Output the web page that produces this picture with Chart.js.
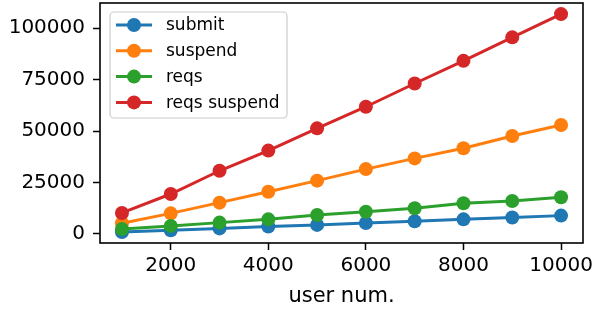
<!DOCTYPE html>
<html>
<head>
<meta charset="utf-8">
<script src="https://cdn.jsdelivr.net/npm/chart.js@4/dist/chart.umd.min.js"></script>
<style>
  html, body { margin: 0; padding: 0; background: #fff; }
  #chart { display: block; }
</style>
</head>
<body>
<canvas id="chart" width="598" height="312"></canvas>
<script>
// data
var userNum = [1000, 2000, 3000, 4000, 5000, 6000, 7000, 8000, 9000, 10000];
var submit = [900, 1800, 2700, 3600, 4400, 5300, 6200, 7100, 8000, 8900];
var suspend = [5200, 10000, 15200, 20500, 25900, 31500, 36700, 41600, 47600, 52900];
var reqs = [2400, 3900, 5500, 7100, 9200, 10800, 12500, 14900, 16000, 17800];
var reqsSuspend = [10200, 19400, 30700, 40500, 51300, 61800, 73100, 84100, 95500, 106800];

var seriesNames = ['submit', 'suspend', 'reqs', 'reqs suspend'];
var seriesColors = ['#1f77b4', '#ff7f0e', '#2ca02c', '#d62728'];
var xTicks = [2000, 4000, 6000, 8000, 10000];
var yTicks = [0, 25000, 50000, 75000, 100000];

var FONT = 'DejaVu Sans';

function points(ys) {
    return userNum.map(function (x, i) { return {x: x, y: ys[i]}; });
}

var allSeries = [submit, suspend, reqs, reqsSuspend];
var datasets = allSeries.map(function (ys, i) {
    return {
        label: seriesNames[i],
        data: points(ys),
        borderColor: seriesColors[i],
        backgroundColor: seriesColors[i],
        borderWidth: 3,
        pointRadius: 7,
        pointHoverRadius: 7,
        pointBorderWidth: 0,
        order: allSeries.length - i // later series on top, like matplotlib
    };
});

// box around the plot, like matplotlib spines
var frame = {
    id: 'frame',
    afterDraw: function (chart) {
        var a = chart.chartArea, ctx = chart.ctx;
        ctx.save();
        ctx.strokeStyle = '#000';
        ctx.lineWidth = 1.6;
        ctx.strokeRect(a.left, a.top, a.right - a.left, a.bottom - a.top);
        ctx.restore();
    }
};

// legend inside the upper left corner, line + marker handles
var insideLegend = {
    id: 'insideLegend',
    afterDraw: function (chart) {
        var a = chart.chartArea, ctx = chart.ctx;
        var x0 = a.left + 10, y0 = a.top + 9, w = 177, h = 106, r = 4;
        ctx.save();
        ctx.fillStyle = 'rgba(255,255,255,0.8)';
        ctx.strokeStyle = '#cccccc';
        ctx.lineWidth = 1.2;
        ctx.beginPath();
        ctx.roundRect(x0, y0, w, h, r);
        ctx.fill();
        ctx.stroke();
        ctx.font = '17px "' + FONT + '"';
        ctx.textBaseline = 'middle';
        ctx.textAlign = 'left';
        chart.data.datasets.forEach(function (ds, i) {
            var y = y0 + 13 + i * 25.8;
            ctx.strokeStyle = ds.borderColor;
            ctx.lineWidth = 3;
            ctx.beginPath();
            ctx.moveTo(x0 + 6, y);
            ctx.lineTo(x0 + 42, y);
            ctx.stroke();
            ctx.fillStyle = ds.backgroundColor;
            ctx.beginPath();
            ctx.arc(x0 + 24, y, 7, 0, Math.PI * 2);
            ctx.fill();
            ctx.fillStyle = '#000';
            ctx.fillText(ds.label, x0 + 56, y + 1);
        });
        ctx.restore();
    }
};

var ctx = document.getElementById('chart').getContext('2d');
var chart = new Chart(ctx, {
    type: 'line',
    data: { datasets: datasets },
    options: {
        responsive: false,
        animation: false,
        devicePixelRatio: 1,
        events: [],
        layout: { autoPadding: false, padding: { top: 3, right: 15, left: 0, bottom: 0 } },
        plugins: {
            legend: { display: false },
            tooltip: { enabled: false }
        },
        scales: {
            x: {
                type: 'linear',
                min: 550,
                max: 10450,
                afterBuildTicks: function (s) { s.ticks = xTicks.map(function (v) { return {value: v}; }); },
                afterFit: function (s) {
                    s.height = 69;
                    s.paddingLeft = 0;
                    s.paddingRight = 0;
                },
                grid: { drawOnChartArea: false, tickLength: 7, tickWidth: 1.5, tickColor: '#000' },
                border: { display: false },
                ticks: {
                    color: '#000',
                    font: { family: FONT, size: 20 },
                    padding: 4,
                    maxRotation: 0,
                    autoSkip: false,
                    callback: function (v) { return String(v); }
                },
                title: {
                    display: true,
                    text: 'user num.',
                    color: '#000',
                    font: { family: FONT, size: 21 },
                    padding: { top: 0, bottom: 3 }
                }
            },
            y: {
                type: 'linear',
                min: -4400,
                max: 112200,
                afterBuildTicks: function (s) { s.ticks = yTicks.map(function (v) { return {value: v}; }); },
                afterFit: function (s) {
                    s.width = 100;
                    s.paddingTop = 0;
                    s.paddingBottom = 0;
                },
                grid: { drawOnChartArea: false, tickLength: 7, tickWidth: 1.5, tickColor: '#000' },
                border: { display: false },
                ticks: {
                    color: '#000',
                    font: { family: FONT, size: 20 },
                    padding: 8,
                    autoSkip: false,
                    callback: function (v) { return String(v); }
                }
            }
        }
    },
    plugins: [frame, insideLegend]
});
</script>
</body>
</html>
